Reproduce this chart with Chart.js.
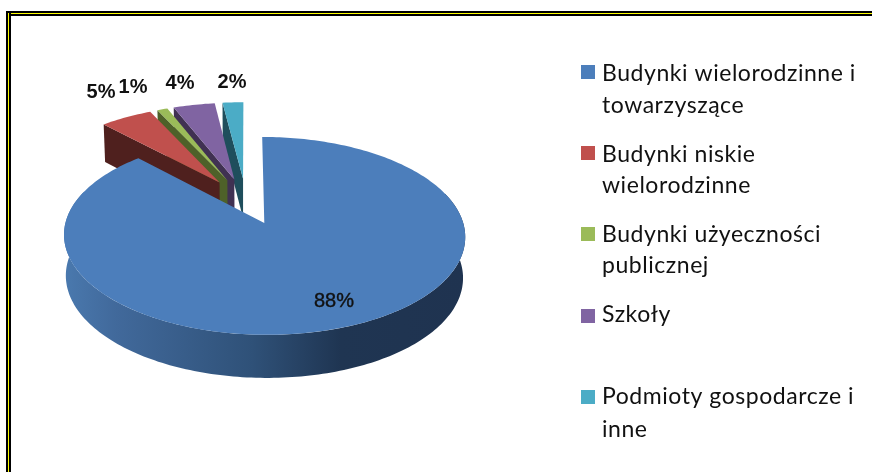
<!DOCTYPE html>
<html><head><meta charset="utf-8">
<script src="https://cdn.jsdelivr.net/npm/chart.js@4"></script>
<style>
html,body{margin:0;padding:0;background:#fff;overflow:hidden}
#wrap{position:relative;width:872px;height:472px}
canvas{position:absolute;left:0;top:0}
.b{position:absolute}
</style></head><body>
<div id="wrap">
<canvas id="c" width="872" height="472"></canvas>
<div class="b" style="left:6px;top:11px;width:866px;height:5px;background:#000"></div>
<div class="b" style="left:8px;top:13px;width:864px;height:1px;background:#ff0"></div>
<div class="b" style="left:6px;top:11px;width:5px;height:461px;background:#000"></div>
<div class="b" style="left:8px;top:13px;width:1px;height:459px;background:#ff0"></div>
</div>
<script>
const categories = [
  ['Budynki wielorodzinne i','towarzyszące'],
  ['Budynki niskie','wielorodzinne'],
  ['Budynki użyeczności','publicznej'],
  ['Szkoły'],
  ['Podmioty gospodarcze i','inne']
];
const shares = [88,5,1,4,2];
const topColors = ['#4c7ebb','#c0504d','#9bbb59','#8064a2','#4bacc6'];
const wallColors = ['#2f4f78','#4f201e','#4e6129','#403152','#1f4e5c'];
const labelAnchors = [[334,301],[101,92],[133,87],[180,83],[232,82]];
const legendSwatchY = [72,153,234,316,397];
const legendLineY = [[74,106],[155,186],[235,266],[315],[397,430]];

// projection of the pie plane
const P = {x0:246,y0:201,A:91.6,B:193,k:0.127,e:0.25};
function proj(u,v,low){
  const d = 1-P.k*v;
  let X = P.B*u/d, Y = P.A*v/d;
  if(low){ X*=0.99; Y+=40+2.5*v; }
  return [P.x0+X,P.y0+Y];
}
function slicePts(arc,low,from,to){
  const mid=(arc.startAngle+arc.endAngle)/2;
  const ou=P.e*Math.cos(mid), ov=P.e*Math.sin(mid);
  const a0=from===undefined?arc.startAngle:from, a1=to===undefined?arc.endAngle:to;
  const n=Math.max(2,Math.ceil((a1-a0)/0.02));
  const pts=[];
  for(let i=0;i<=n;i++){const a=a0+(a1-a0)*i/n;pts.push(proj(ou+Math.cos(a),ov+Math.sin(a),low));}
  return {pts,apex:proj(ou,ov,low)};
}
function poly(ctx,pts,fill){
  ctx.beginPath();pts.forEach((p,i)=>i?ctx.lineTo(p[0],p[1]):ctx.moveTo(p[0],p[1]));
  ctx.closePath();ctx.fillStyle=fill;ctx.fill();
}
const pie3d = {
  id:'pie3d',
  beforeDatasetsDraw(chart){
    const ctx=chart.ctx, arcs=chart.getDatasetMeta(0).data;
    ctx.save();
    // small slices, right to left so each covers its neighbour's wall
    for(let i=arcs.length-1;i>=1;i--){
      const arc=arcs[i];
      const top=slicePts(arc,false), low=slicePts(arc,true);
      poly(ctx,[top.pts[0],top.apex,low.apex,low.pts[0]],wallColors[i]);
      poly(ctx,[top.apex,...top.pts],topColors[i]);
    }
    // large slice: front wall then top face
    const big=arcs[0];
    const fr=-Math.PI/2+1.25, to=-Math.PI/2+5.05;
    const upper=slicePts(big,false,fr,to).pts, lower=slicePts(big,true,fr,to).pts.reverse();
    const g=ctx.createLinearGradient(64,0,465,0);
    g.addColorStop(0,'#4a79ae');g.addColorStop(0.13,'#41699b');g.addColorStop(0.47,'#2f5178');
    g.addColorStop(0.69,'#1f3552');g.addColorStop(1,'#1f3350');
    poly(ctx,upper.concat(lower),g);
    const t=slicePts(big,false);
    poly(ctx,[t.apex,...t.pts],topColors[0]);
    ctx.restore();
    return false;
  },
  afterDraw(chart){
    const ctx=chart.ctx;
    ctx.save();
    ctx.textBaseline='middle';ctx.textAlign='center';ctx.fillStyle='#111';ctx.strokeStyle='#111';ctx.lineWidth=0.4;
    shares.forEach((v,i)=>{
      ctx.font='bold 20px "Liberation Sans"';
      if(i===0){ctx.font='20px "Liberation Sans"';ctx.strokeText(v+'%',labelAnchors[i][0],labelAnchors[i][1]);}
      ctx.fillText(v+'%',labelAnchors[i][0],labelAnchors[i][1]);
    });
    ctx.textAlign='left';
    ctx.font='23px Lato';
    ctx.letterSpacing='0.55px';
    categories.forEach((lines,i)=>{
      ctx.fillStyle=topColors[i];
      ctx.fillRect(581,legendSwatchY[i]-7,14,14);
      ctx.fillStyle='#111';
      lines.forEach((s,j)=>ctx.fillText(s,602,legendLineY[i][j]));
    });
    ctx.restore();
  }
};
new Chart(document.getElementById('c'),{
  type:'pie',
  data:{labels:categories,datasets:[{data:shares,backgroundColor:topColors}]},
  options:{responsive:false,animation:false,events:[],
    plugins:{legend:{display:false},tooltip:{enabled:false}}},
  plugins:[pie3d]
});
</script>
</body></html>
